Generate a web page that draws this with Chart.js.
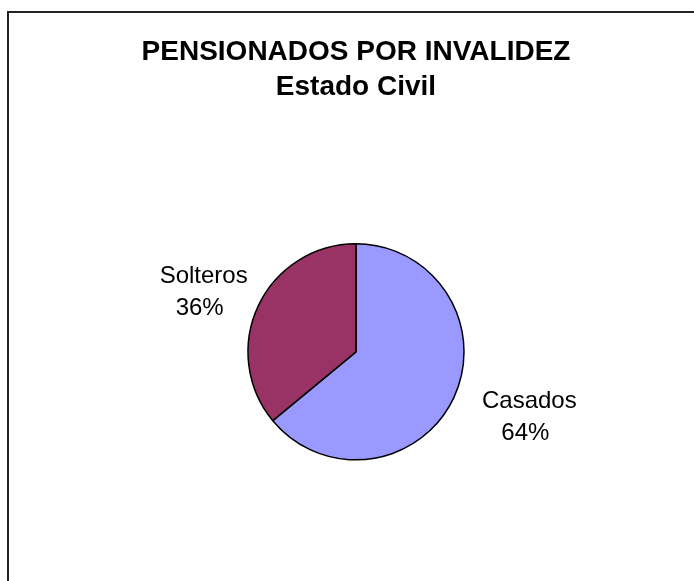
<!DOCTYPE html>
<html>
<head>
<meta charset="utf-8">
<script src="https://cdn.jsdelivr.net/npm/chart.js@4/dist/chart.umd.min.js"></script>
<style>
  body { margin: 0; background: #fff; }
  #wrap { position: relative; width: 694px; height: 581px; overflow: hidden; }
  #frame { position: absolute; left: 7px; top: 11px; right: -10px; bottom: -10px;
           border-top: 2px solid #222; border-left: 2px solid #222; }
  canvas { position: absolute; left: 0; top: 0; }
</style>
</head>
<body>
<div id="wrap">
  <div id="frame"></div>
  <canvas id="myChart" width="694" height="581"></canvas>
</div>
<script>
const labels = ['Casados', 'Solteros']
const values = [64, 36]
const colors = ['#9999FF', '#993366']
const titleLines = ['PENSIONADOS POR INVALIDEZ', 'Estado Civil']

// labels outside the pie, name on one line and percent under it
const sliceLabels = {
    id: 'sliceLabels',
    afterDatasetsDraw(chart) {
        const ctx = chart.ctx
        const total = values.reduce((a, b) => a + b, 0)
        const nudge = [[15, -9], [6, 15]]
        chart.getDatasetMeta(0).data.forEach((arc, i) => {
            const mid = (arc.startAngle + arc.endAngle) / 2
            const d = arc.outerRadius + 67
            const x = arc.x + Math.cos(mid) * d + nudge[i][0]
            const y = arc.y + Math.sin(mid) * d + nudge[i][1]
            ctx.save()
            ctx.fillStyle = '#000'
            ctx.font = '24px "Liberation Sans", Arial, sans-serif'
            ctx.textAlign = 'center'
            ctx.textBaseline = 'middle'
            ctx.fillText(labels[i], x, y - 16)
            ctx.fillText(Math.round(values[i] / total * 100) + '%', x - 4, y + 16)
            ctx.restore()
        })
    }
}

new Chart(document.getElementById('myChart'), {
    type: 'pie',
    data: {
        labels: labels,
        datasets: [{
            data: values,
            backgroundColor: colors,
            borderColor: '#000',
            borderWidth: 1.5,
            radius: 108
        }]
    },
    options: {
        responsive: false,
        animation: false,
        layout: { padding: { left: 18, right: 0, top: 0, bottom: 0 } },
        plugins: {
            legend: { display: false },
            tooltip: { enabled: false },
            title: {
                display: true,
                text: titleLines,
                color: '#000',
                font: { family: '"Liberation Sans", Arial, sans-serif', size: 28, weight: 'bold', lineHeight: 1.28 },
                padding: { top: 34, bottom: 17 }
            }
        }
    },
    plugins: [sliceLabels]
});
</script>
</body>
</html>
